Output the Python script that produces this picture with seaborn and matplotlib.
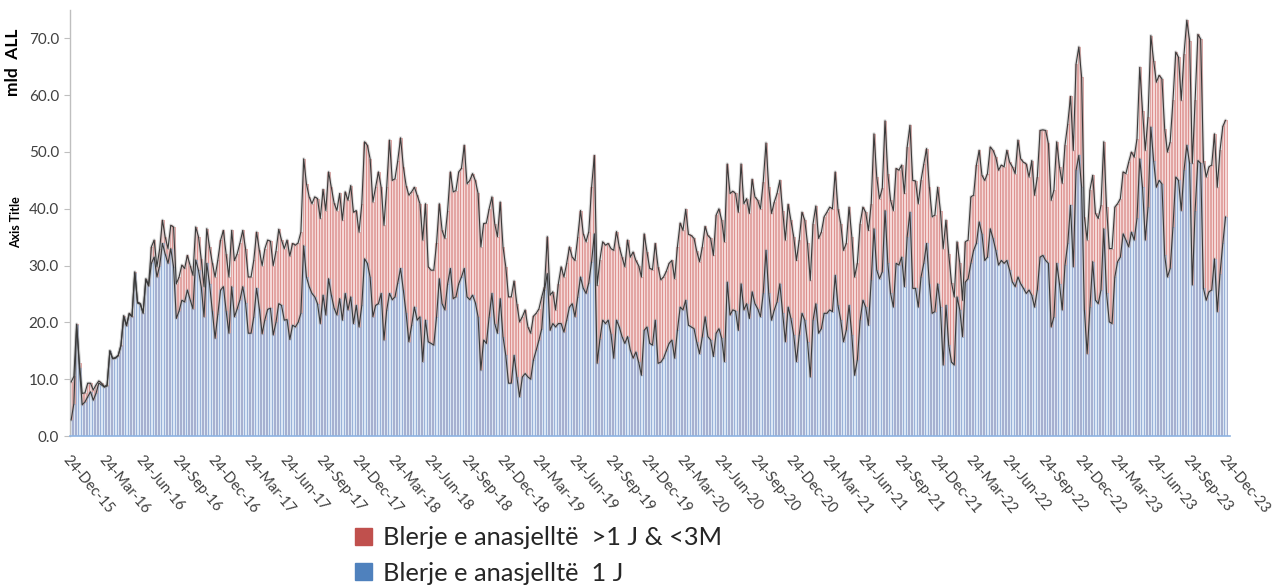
import datetime as dt
import numpy as np
import pandas as pd
import matplotlib
matplotlib.use("Agg")
import matplotlib.pyplot as plt
import seaborn as sns
from matplotlib.patches import Patch

# ---------------- data (weekly) ----------------
total = [
    9.5, 10.5, 19.7, 12.8, 7.5, 7.6, 9.3, 9.3, 8.1, 9.0,
    9.7, 9.3, 8.7, 9.0, 15.0, 13.7, 13.8, 14.2, 16.0, 21.2,
    19.5, 21.6, 21.1, 28.9, 23.6, 23.3, 21.7, 27.7, 26.6, 33.3,
    34.5, 29.8, 33.0, 38.0, 35.0, 33.0, 37.1, 36.8, 26.8, 28.0,
    30.1, 29.5, 31.8, 30.0, 28.3, 36.8, 35.1, 31.2, 26.3, 36.5,
    33.3, 30.5, 28.0, 31.0, 34.5, 36.2, 32.0, 28.0, 36.2, 30.9,
    32.1, 34.0, 36.2, 33.0, 28.0, 28.0, 31.0, 35.9, 32.7, 30.0,
    33.0, 34.5, 34.3, 30.0, 32.5, 36.4, 34.5, 33.0, 34.5, 31.7,
    33.9, 33.6, 34.0, 35.9, 48.8, 44.4, 42.1, 40.9, 42.1, 41.8,
    38.3, 43.4, 39.7, 46.5, 43.8, 41.0, 39.7, 42.7, 38.0, 43.0,
    41.5, 44.1, 39.4, 39.7, 35.9, 40.9, 51.8, 51.2, 48.8, 41.2,
    43.8, 46.5, 43.8, 37.1, 43.8, 52.1, 45.0, 45.3, 48.5, 52.5,
    47.4, 44.1, 42.4, 43.0, 43.8, 42.4, 40.9, 34.5, 40.9, 29.8,
    29.2, 29.2, 33.9, 40.9, 36.2, 34.8, 39.7, 46.5, 43.0, 43.2,
    46.5, 47.1, 51.2, 44.4, 45.0, 46.2, 45.0, 42.7, 33.3, 37.4,
    37.5, 40.0, 42.1, 37.4, 35.1, 41.2, 33.3, 29.8, 24.5, 24.5,
    27.3, 23.3, 20.1, 21.0, 22.2, 19.2, 18.1, 21.1, 21.6, 22.4,
    24.5, 26.3, 35.1, 24.8, 25.4, 22.2, 26.8, 29.8, 28.0, 30.4,
    33.3, 31.5, 30.9, 35.0, 39.7, 35.6, 34.2, 36.0, 43.8, 49.4,
    26.5, 31.0, 34.2, 33.6, 33.9, 33.0, 32.7, 36.0, 33.3, 31.5,
    29.8, 34.5, 31.5, 32.4, 30.9, 30.0, 28.0, 35.6, 32.4, 29.5,
    29.3, 33.9, 29.8, 27.5, 28.0, 29.0, 30.4, 30.9, 27.7, 33.3,
    37.5, 36.2, 39.9, 35.5, 35.3, 34.8, 32.5, 30.7, 33.3, 36.9,
    35.3, 34.8, 31.8, 38.9, 40.0, 38.0, 34.2, 47.9, 42.7, 43.1,
    42.7, 39.4, 47.9, 40.9, 41.8, 39.2, 45.2, 42.1, 41.5, 40.0,
    44.7, 51.6, 43.8, 39.2, 41.2, 42.7, 45.0, 39.7, 34.5, 40.8,
    38.0, 35.1, 30.9, 34.5, 39.4, 38.0, 33.9, 27.4, 37.4, 40.5,
    34.8, 35.9, 38.6, 39.4, 40.3, 40.0, 46.5, 40.0, 37.4, 32.7,
    33.9, 40.3, 35.1, 28.0, 30.4, 37.4, 40.3, 39.4, 36.2, 40.9,
    53.2, 45.6, 41.8, 43.6, 55.5, 46.2, 41.5, 39.7, 47.1, 46.8,
    47.7, 42.7, 50.9, 54.7, 45.0, 44.9, 40.9, 45.0, 47.9, 50.6,
    43.8, 38.6, 38.9, 43.8, 39.7, 33.0, 38.0, 32.0, 27.0, 24.5,
    34.2, 30.4, 23.9, 34.2, 34.5, 42.1, 42.4, 47.7, 50.3, 45.9,
    45.0, 46.2, 50.9, 50.3, 49.1, 46.8, 47.7, 47.4, 50.3, 48.2,
    47.4, 46.2, 52.1, 48.8, 48.2, 47.9, 45.6, 48.5, 42.4, 45.6,
    53.8, 53.9, 53.8, 51.5, 41.5, 43.3, 51.8, 47.4, 44.5, 51.2,
    55.0, 59.8, 50.3, 65.5, 68.5, 63.2, 38.6, 34.5, 43.3, 45.9,
    39.2, 38.3, 40.6, 51.8, 40.3, 33.0, 33.0, 40.3, 40.9, 41.8,
    46.5, 46.2, 48.2, 50.0, 49.1, 52.3, 64.9, 57.3, 50.3, 56.2,
    70.5, 66.1, 62.3, 63.5, 62.9, 54.1, 50.0, 51.8, 59.1, 67.6,
    66.7, 59.1, 67.3, 73.2, 69.6, 48.0, 59.1, 70.7, 69.9, 48.5,
    45.6, 47.4, 47.7, 53.2, 43.8, 50.3, 54.5, 55.6,
]

blerje_1j = [
    2.8, 5.7, 19.5, 12.0, 5.5, 6.0, 6.9, 7.8, 6.3, 7.5,
    9.3, 9.0, 8.6, 8.8, 15.0, 13.6, 13.7, 14.1, 15.9, 21.0,
    19.4, 21.5, 21.0, 28.7, 23.4, 23.2, 21.6, 27.5, 26.4, 30.4,
    31.5, 28.0, 30.0, 33.9, 32.0, 30.4, 33.0, 29.8, 20.7, 22.0,
    23.9, 23.6, 25.7, 24.0, 22.4, 31.0, 29.2, 26.3, 21.0, 30.4,
    26.8, 22.0, 17.2, 21.5, 25.7, 26.3, 22.0, 18.1, 26.3, 21.0,
    22.4, 24.0, 26.3, 23.5, 18.1, 18.1, 21.0, 26.0, 22.4, 18.0,
    20.5, 22.3, 22.5, 17.8, 20.0, 23.3, 23.0, 20.4, 20.5, 17.0,
    19.5, 19.2, 20.0, 21.6, 33.5, 28.0, 26.3, 25.1, 24.5, 23.3,
    19.8, 24.8, 21.3, 27.7, 24.8, 22.5, 21.3, 24.2, 20.4, 25.1,
    22.2, 24.5, 19.8, 23.0, 19.2, 23.0, 31.2, 30.4, 28.0, 21.0,
    23.0, 23.3, 25.1, 16.9, 22.2, 25.1, 24.0, 24.5, 27.0, 29.5,
    25.7, 21.6, 16.6, 19.5, 22.7, 20.4, 21.0, 13.1, 20.4, 16.6,
    16.3, 16.0, 21.0, 27.7, 23.3, 22.2, 26.8, 29.5, 24.2, 24.5,
    26.8, 28.0, 29.5, 24.5, 24.0, 24.8, 23.5, 21.0, 11.6, 16.9,
    16.3, 21.0, 25.1, 19.8, 18.1, 24.2, 17.5, 14.2, 9.3, 9.3,
    14.2, 10.4, 6.9, 10.4, 11.0, 10.4, 10.0, 13.4, 15.1, 16.9,
    18.9, 25.7, 28.6, 18.6, 19.8, 19.2, 19.8, 19.8, 18.3, 20.4,
    22.7, 23.3, 21.0, 24.5, 28.0, 26.0, 25.1, 27.0, 30.7, 35.6,
    12.8, 17.0, 20.4, 19.8, 20.4, 18.0, 13.7, 20.4, 19.2, 17.5,
    16.3, 17.5, 15.1, 13.7, 14.8, 13.0, 10.7, 18.6, 19.2, 16.3,
    16.0, 20.4, 12.8, 13.0, 13.7, 15.0, 16.3, 16.9, 13.7, 18.6,
    22.7, 22.2, 23.9, 19.5, 19.2, 18.9, 16.5, 14.5, 17.5, 21.0,
    17.5, 16.9, 14.0, 18.1, 18.9, 17.2, 13.1, 27.1, 21.3, 22.2,
    22.0, 18.6, 26.8, 22.2, 23.3, 20.7, 25.4, 23.3, 22.4, 21.0,
    25.1, 32.7, 25.1, 20.4, 22.2, 23.6, 26.8, 21.6, 16.6, 22.7,
    20.7, 17.8, 13.1, 17.8, 21.6, 20.4, 16.6, 10.4, 20.4, 23.3,
    18.1, 18.9, 21.6, 21.6, 22.2, 21.9, 28.3, 23.0, 20.4, 16.6,
    18.6, 23.0, 17.8, 10.7, 13.4, 20.4, 23.9, 22.7, 19.5, 27.4,
    36.5, 29.2, 27.7, 28.9, 39.7, 30.4, 25.1, 22.7, 30.4, 30.1,
    31.5, 26.3, 35.1, 39.4, 26.0, 26.0, 22.7, 28.0, 30.4, 33.9,
    26.8, 21.6, 21.9, 26.8, 22.7, 12.5, 23.0, 16.0, 13.0, 12.5,
    24.5, 22.2, 17.5, 27.1, 27.7, 30.4, 32.7, 33.9, 37.7, 35.6,
    30.9, 31.5, 36.5, 34.8, 32.7, 30.1, 30.9, 30.4, 30.9, 29.2,
    27.1, 26.3, 28.0, 26.8, 26.0, 25.1, 25.7, 24.8, 22.7, 25.7,
    31.5, 31.8, 30.9, 30.4, 19.2, 21.0, 30.4, 26.8, 22.2, 30.1,
    33.9, 40.6, 29.8, 46.8, 49.4, 43.8, 22.2, 14.5, 22.7, 30.7,
    23.9, 23.3, 25.7, 36.5, 25.1, 20.1, 19.8, 28.0, 30.7, 31.5,
    35.6, 34.5, 33.3, 35.9, 34.5, 38.3, 48.8, 43.8, 34.5, 40.3,
    54.4, 48.5, 43.8, 45.0, 44.4, 31.8, 28.0, 29.5, 36.8, 45.6,
    45.0, 39.7, 46.8, 51.2, 48.0, 26.6, 39.7, 48.5, 48.0, 26.0,
    23.9, 25.4, 25.7, 31.2, 21.9, 28.6, 33.9, 38.6,
]

series_labels = ["Blerje e anasjelltë  >1 J & <3M", "Blerje e anasjelltë  1 J"]
start_date = dt.date(2015, 12, 24)
end_date = dt.date(2023, 12, 24)
y_ticks = [0, 10, 20, 30, 40, 50, 60, 70]

# ---------------- styling ----------------
sns.set_style("white")
plt.rcParams["font.family"] = ["Lato", "DejaVu Sans"]

RED_FACE, RED_EDGE, RED_LEG = "#f5d8d7", "#d36f6d", "#c0504d"
BLUE_FACE, BLUE_EDGE, BLUE_LEG = "#dbe6f4", "#7ba0d4", "#4f81bd"

n = len(total)
df = pd.DataFrame({"week": np.arange(n), "total": total, "j1": blerje_1j})
df["red"] = df["total"] - df["j1"]

fig = plt.figure(figsize=(12.76, 5.87), dpi=100)
W, H = 1276, 587
ax = fig.add_axes([70 / W, 1 - 436 / H, 1160 / W, 426 / H])

# stacked columns: total (red on top) drawn first, then the 1J part over it
sns.barplot(data=df, x="week", y="total", native_scale=True, color=RED_FACE,
            saturation=1, edgecolor=RED_EDGE, linewidth=0.4, width=0.8,
            errorbar=None, ax=ax)
sns.barplot(data=df, x="week", y="j1", native_scale=True, color=BLUE_FACE,
            saturation=1, edgecolor=BLUE_EDGE, linewidth=0.4, width=0.8,
            errorbar=None, ax=ax)

# outline lines with soft shadow
for col in ["total", "j1"]:
    ax.plot(df["week"], df[col], color="#a8a8a8", lw=2.4, alpha=0.4,
            solid_joinstyle="round", zorder=3)
    sns.lineplot(data=df, x="week", y=col, color="#3a3a3a", lw=0.8,
                 estimator=None, ax=ax, zorder=4)

ax.set_xlim(-0.4, n + 0.6)
ax.set_ylim(0, 75)

# axes look
for s in ["top", "right"]:
    ax.spines[s].set_visible(False)
ax.spines["left"].set_color("#bfbfbf")
ax.spines["left"].set_linewidth(1.0)
ax.spines["bottom"].set_color("#8db3e2")
ax.spines["bottom"].set_linewidth(1.2)

ax.set_yticks(y_ticks)
ax.set_yticklabels([f"{v:.1f}" for v in y_ticks])
ax.tick_params(axis="y", direction="out", length=4, color="#bfbfbf",
               labelsize=11, labelcolor="#404040", pad=4, left=True)

tick_dates = []
for y in range(2015, 2024):
    for m in (3, 6, 9, 12):
        d = dt.date(y, m, 24)
        if start_date <= d <= end_date:
            tick_dates.append(d)
tick_pos = [(d - start_date).days / 7.0 for d in tick_dates]
tick_lab = [d.strftime("%d-%b-%y") for d in tick_dates]
ax.set_xticks(tick_pos)
ax.set_xticklabels(tick_lab, rotation=-50, ha="left", va="top",
                   rotation_mode="anchor", fontsize=10.5, color="#404040")
ax.tick_params(axis="x", length=0, pad=12, bottom=True)
ax.set_xlabel("")
ax.set_ylabel("")
ax.grid(False)

fig.text(13 / W, 1 - 62 / H, "mld  ALL", rotation=90, fontweight="bold",
         fontsize=12.5, ha="center", va="center", color="#000000")
fig.text(16 / W, 1 - 222 / H, "Axis Title", rotation=90, fontweight="bold",
         fontsize=9, ha="center", va="center", color="#000000")

handles = [Patch(facecolor=RED_LEG, edgecolor=RED_LEG),
           Patch(facecolor=BLUE_LEG, edgecolor=BLUE_LEG)]
fig.legend(handles, series_labels, loc="upper left",
           bbox_to_anchor=(345 / W, 1 - 516 / H), frameon=False,
           fontsize=18.3, handlelength=0.65, handleheight=0.65,
           handletextpad=0.45, labelspacing=0.5, borderaxespad=0)

fig.savefig("out.png", dpi=100)
